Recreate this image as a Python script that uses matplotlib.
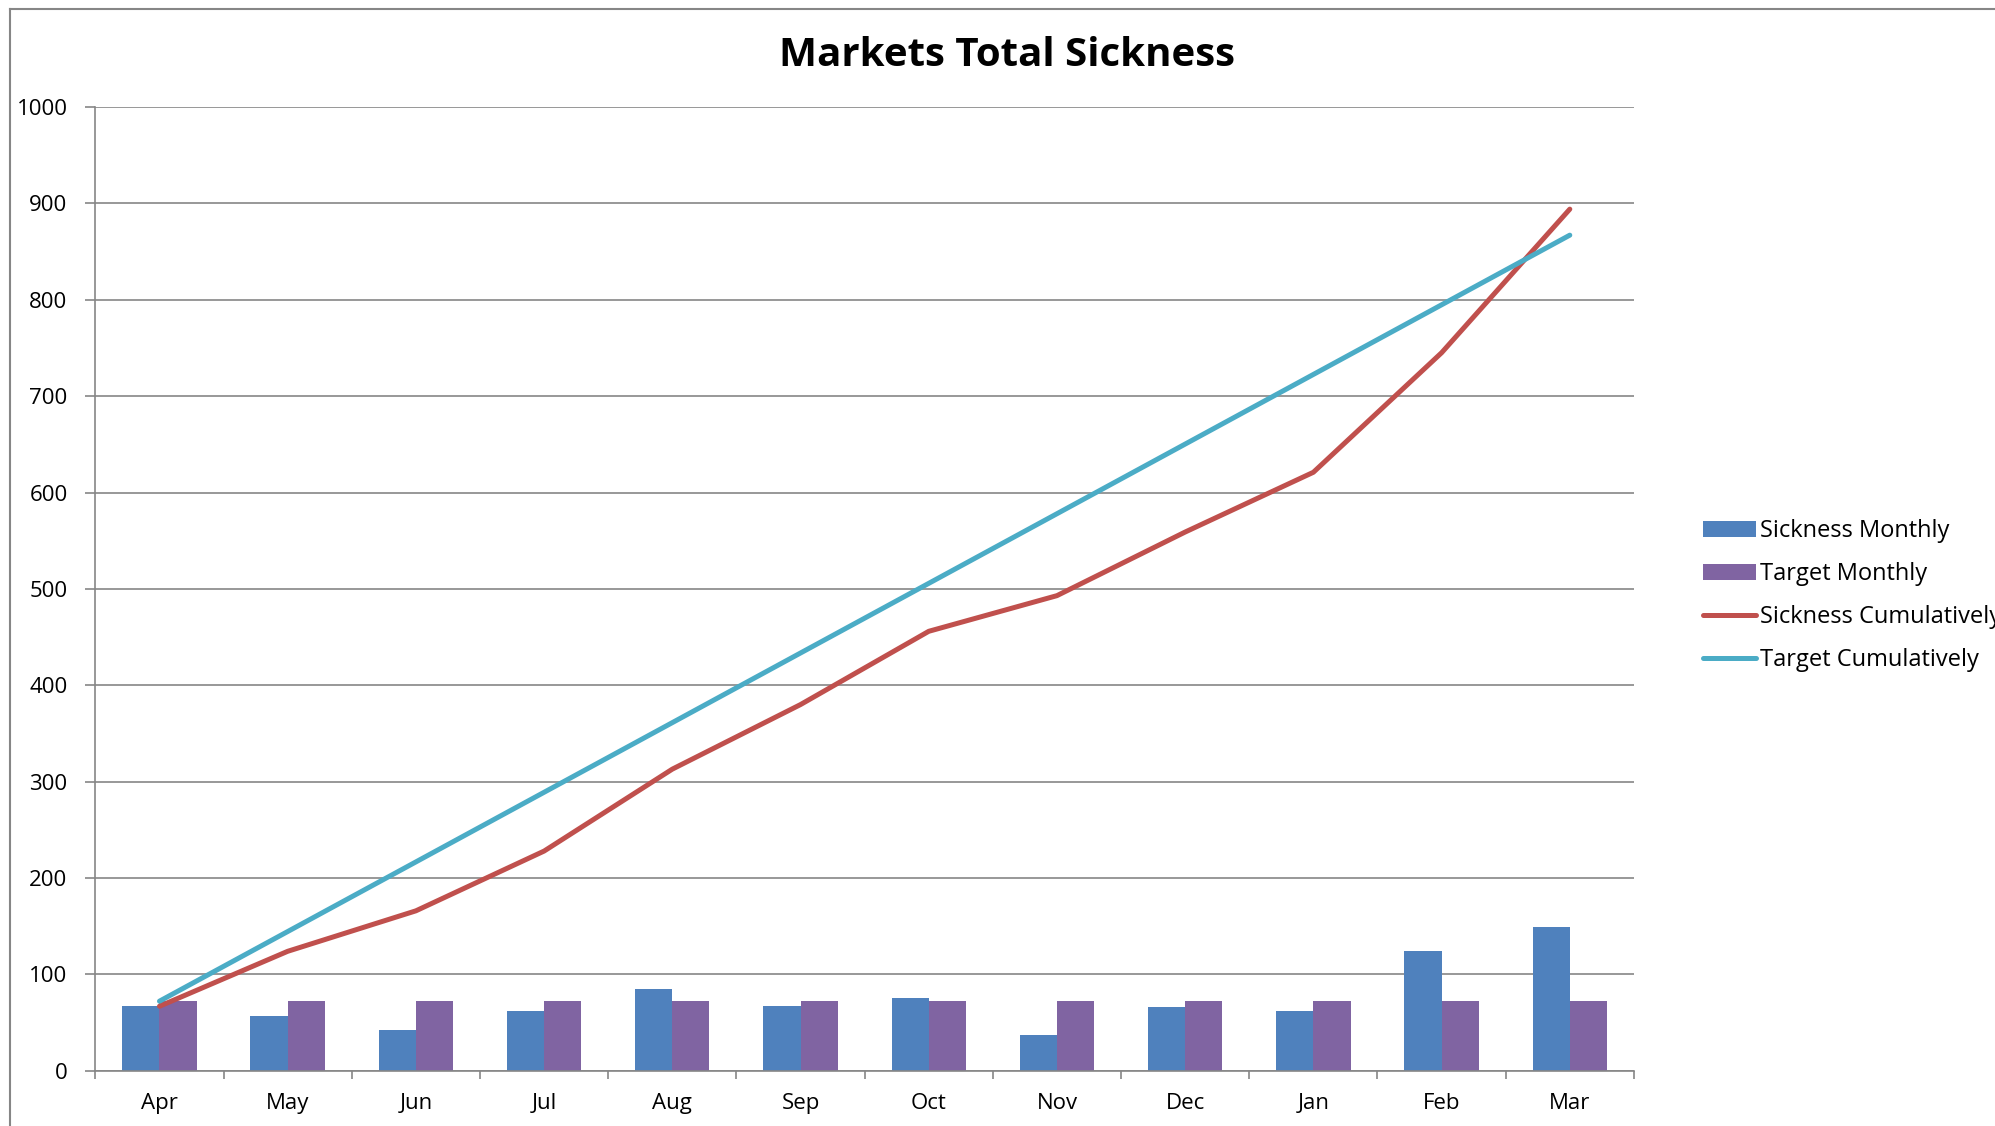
"""
Markets Total Sickness - monthly bars with cumulative lines
"""
import numpy as np
import matplotlib
matplotlib.use("Agg")
import matplotlib.pyplot as plt
from matplotlib.lines import Line2D

MONTHS = ["Apr", "May", "Jun", "Jul", "Aug", "Sep",
          "Oct", "Nov", "Dec", "Jan", "Feb", "Mar"]
SICKNESS_MONTHLY = [67, 57, 42, 62, 85, 67, 76, 37, 66, 62, 124, 149]
TARGET_MONTHLY = [72.25] * 12
SICKNESS_CUMULATIVE = [67, 124, 166, 228, 313, 380, 456, 493, 559, 621, 745, 894]
TARGET_CUMULATIVE = [72.25, 144.5, 216.75, 289, 361.25, 433.5,
                     505.75, 578, 650.25, 722.5, 794.75, 867]
SERIES_NAMES = ["Sickness Monthly", "Target Monthly",
                "Sickness Cumulatively", "Target Cumulatively"]

BLUE = "#4F81BD"
PURPLE = "#8064A2"
RED = "#C0504D"
TEAL = "#4BACC6"
GREY = "#868686"

plt.rcParams["font.family"] = ["Open Sans", "DejaVu Sans"]

fig = plt.figure(figsize=(19.95, 11.26), dpi=100)
ax = fig.add_axes([0.0478, 0.049, 0.819 - 0.0478, 0.856])

x = np.arange(len(MONTHS))
bw = 0.29
b1 = ax.bar(x - bw / 2, SICKNESS_MONTHLY, bw, color=BLUE, zorder=2,
            label=SERIES_NAMES[0])
b2 = ax.bar(x + bw / 2, TARGET_MONTHLY, bw, color=PURPLE, zorder=2,
            label=SERIES_NAMES[1])
l1, = ax.plot(x, SICKNESS_CUMULATIVE, color=RED, lw=3.6, zorder=3,
              solid_capstyle="round", label=SERIES_NAMES[2])
l2, = ax.plot(x, TARGET_CUMULATIVE, color=TEAL, lw=3.6, zorder=3,
              solid_capstyle="round", label=SERIES_NAMES[3])

ax.set_xlim(-0.5, len(MONTHS) - 0.5)
ax.set_ylim(0, 1000)
ax.set_yticks(range(0, 1001, 100))
ax.yaxis.grid(True, color=GREY, lw=1.2, zorder=0)
ax.set_axisbelow(True)

ax.set_xticks(x)
ax.set_xticklabels(MONTHS)
ax.set_xticks(np.arange(-0.5, len(MONTHS)), minor=True)
ax.tick_params(axis="x", which="major", length=0, pad=16, labelsize=16)
ax.tick_params(axis="x", which="minor", length=6, width=1.2, color=GREY)
ax.tick_params(axis="y", length=7, width=1.2, color=GREY, pad=13, labelsize=16)

for s in ["top", "right"]:
    ax.spines[s].set_visible(False)
for s in ["left", "bottom"]:
    ax.spines[s].set_color(GREY)
    ax.spines[s].set_linewidth(1.2)

fig.text(0.505, 0.951, "Markets Total Sickness", ha="center", va="center",
         fontsize=29, fontweight="bold")

fig.legend(handles=[b1, b2, l1, l2], loc="center left",
           bbox_to_anchor=(0.8475, 0.471), frameon=False, fontsize=17,
           borderpad=0, handlelength=2.25, handletextpad=0.2,
           labelspacing=0.8)

# outer chart border (only left and top edges visible)
fig.add_artist(Line2D([0.005, 0.005], [0, 0.992], color=GREY, lw=1.5))
fig.add_artist(Line2D([0.005, 1.0], [0.992, 0.992], color=GREY, lw=1.5))

fig.savefig("out.png", dpi=100)
